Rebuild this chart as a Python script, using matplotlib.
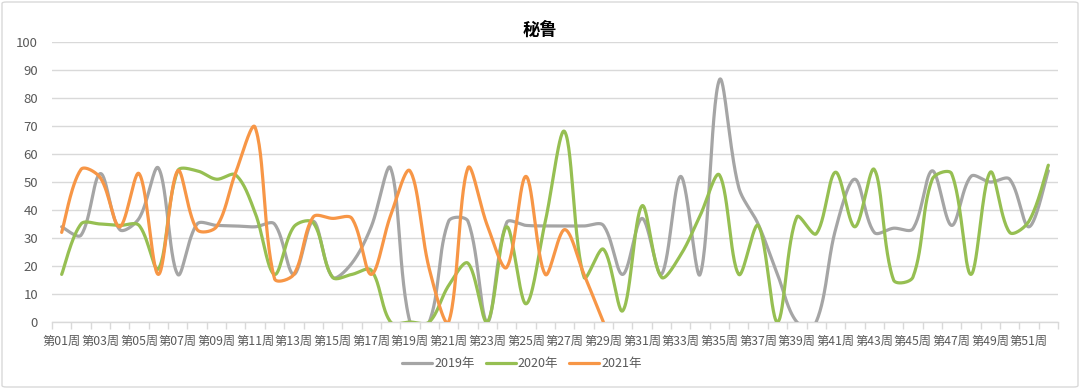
import numpy as np
import matplotlib
matplotlib.use("Agg")
import matplotlib.pyplot as plt
from matplotlib.patches import FancyBboxPatch

plt.rcParams['font.family'] = ['Noto Sans CJK SC', 'DejaVu Sans']

title = "秘鲁"
weeks = [f"第{i:02d}周" for i in range(1, 53)]
series_names = ["2019年", "2020年", "2021年"]

y2019 = [34, 31, 53, 33, 37, 55, 17, 35, 34.5, 34.3, 34, 35, 17, 36, 16, 21, 34, 55,
         0, 0, 36, 36, 0, 35.5, 34.5, 34.3, 34.3, 34.3, 34.5, 17, 37, 17, 52, 17, 86.5,
         48, 35, 17, 0, 0, 33, 51, 32, 33.5, 33.3, 54, 34.5, 52, 50, 51, 34, 54]
y2020 = [17, 35, 35, 34.5, 34.5, 19, 54, 54, 51, 52.5, 39, 17, 34, 35.5, 16, 17, 18.5, 0,
         0, 0, 13, 21, 0, 34, 6.5, 36, 68, 16, 26, 4, 41.5, 16, 24, 38, 52.5,
         17, 34.5, 0, 37.5, 31.5, 53.5, 34, 54.5, 15, 16, 51, 53, 17, 53.5, 32, 36, 56]
y2021 = [32, 54.5, 51.5, 34, 53, 17, 54, 33, 34, 53.5, 69.5, 15.5, 17, 37.5, 37, 37, 17, 38,
         54, 19, 0, 55, 34.5, 19.5, 52, 17, 33, 17, 0]

colors = ["#A5A5A5", "#96BF52", "#F79646"]

# pixel scale used only for the chord-length weighting of the smoothing
PX_X = 19.35
PX_Y = 2.8


def smooth(xs, ys, n=30, t=1 / 3):
    xs = np.asarray(xs, float)
    ys = np.asarray(ys, float)
    m = len(xs)
    P = np.column_stack([xs, ys])
    S = np.array([PX_X, PX_Y])

    def d(a, b):
        return np.hypot(*((P[a] - P[b]) * S)) + 1e-9

    ox, oy = [], []
    for i in range(m - 1):
        i0 = max(i - 1, 0)
        i3 = min(i + 2, m - 1)
        p0, p1, p2, p3 = P[i0], P[i], P[i + 1], P[i3]
        d01, d12, d23 = d(i0, i), d(i, i + 1), d(i + 1, i3)
        if i0 == i:
            c1 = p1 + (p2 - p1) * t / 2
        else:
            c1 = p1 + (p2 - p0) * t * d12 / (d01 + d12)
        if i3 == i + 1:
            c2 = p2 - (p2 - p1) * t / 2
        else:
            c2 = p2 - (p3 - p1) * t * d12 / (d12 + d23)
        tt = np.linspace(0, 1, n, endpoint=(i == m - 2))[:, None]
        pts = ((1 - tt) ** 3) * p1 + 3 * ((1 - tt) ** 2) * tt * c1 + 3 * (1 - tt) * tt ** 2 * c2 + tt ** 3 * p2
        ox.extend(pts[:, 0])
        oy.extend(pts[:, 1])
    return np.array(ox), np.array(oy)


fig = plt.figure(figsize=(10.8, 3.89), dpi=100)
ax = fig.add_axes([52 / 1080, 1 - 322 / 389, 1006 / 1080, 280 / 389])

for name, ys, c in zip(series_names, [y2019, y2020, y2021], colors):
    xs = np.arange(1, len(ys) + 1)
    sx, sy = smooth(xs, ys)
    ax.plot(sx, sy, color=c, lw=2.3, label=name, solid_capstyle='round', zorder=3)

ax.set_xlim(0.5, 52.5)
ax.set_ylim(0, 100)
ax.set_yticks(np.arange(0, 101, 10))
ax.yaxis.grid(True, color="#D9D9D9", lw=1)
ax.set_axisbelow(True)
ax.tick_params(axis='y', length=0, labelsize=9.5, labelcolor="#595959", pad=10)

ax.set_xticks(np.arange(1, 53, 2))
ax.set_xticklabels(weeks[::2])
ax.set_xticks(np.arange(0.5, 53, 1), minor=True)
ax.tick_params(axis='x', which='major', length=0, labelsize=8.8, labelcolor="#595959", pad=9)
ax.tick_params(axis='x', which='minor', length=5, color="#D9D9D9", width=1)

for s in ['left', 'right', 'top']:
    ax.spines[s].set_visible(False)
ax.spines['bottom'].set_color("#D9D9D9")
ax.spines['bottom'].set_linewidth(1)

fig.text(540 / 1080, 1 - 30 / 389, title, ha='center', va='center', fontsize=12.5,
         fontweight='bold', color="#000000")

leg = fig.legend(loc='center', bbox_to_anchor=(522 / 1080, 1 - 364 / 389), ncol=3, frameon=False,
                 fontsize=9, handlelength=2.4, columnspacing=0.9, handletextpad=0.15)
for t in leg.get_texts():
    t.set_color("#595959")

border = FancyBboxPatch((2 / 1080, 2 / 389), 1076 / 1080, 385 / 389,
                        boxstyle="round,pad=0,rounding_size=0.004",
                        transform=fig.transFigure, fill=False, edgecolor="#D9D9D9", lw=1)
fig.patches.append(border)

fig.savefig("out.png", dpi=100)
